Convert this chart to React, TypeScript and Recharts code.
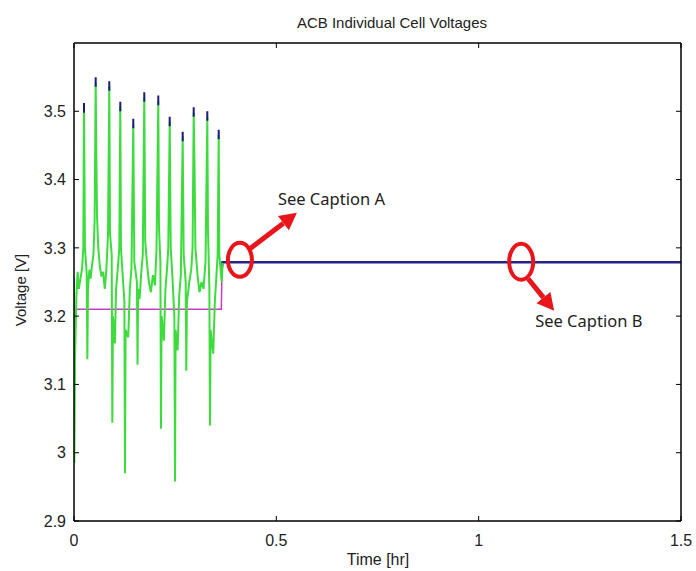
import { LineChart, Line, XAxis, YAxis, ReferenceDot } from "recharts";

// cell voltages (hours / volts)
const greenTime = [
  0.0, 0.0008, 0.0025, 0.006, 0.009, 0.012, 0.016, 0.02, 0.023, 0.0247, 0.026, 0.027, 0.0315, 0.033, 0.0345,
  0.038, 0.041, 0.044, 0.048, 0.051, 0.0536, 0.055, 0.057, 0.06, 0.064, 0.068, 0.072, 0.076, 0.08, 0.084,
  0.0872, 0.089, 0.0932, 0.0947, 0.0962, 0.101, 0.104, 0.108, 0.112, 0.1144, 0.116, 0.12, 0.1245,
  0.126, 0.1275, 0.134, 0.138, 0.142, 0.1465, 0.149, 0.1555, 0.157, 0.1585, 0.162, 0.166, 0.17, 0.1737,
  0.176, 0.18, 0.185, 0.19, 0.195, 0.2, 0.204, 0.2083, 0.21, 0.2135, 0.215, 0.2165, 0.222, 0.226,
  0.23, 0.233, 0.2365, 0.239, 0.243, 0.248, 0.2496, 0.251, 0.256, 0.26, 0.264, 0.2686, 0.271, 0.276,
  0.2775, 0.279, 0.285, 0.29, 0.293, 0.2958, 0.298, 0.3, 0.305, 0.31, 0.315, 0.32, 0.325, 0.3294,
  0.331, 0.3345, 0.336, 0.3375, 0.344, 0.348, 0.352, 0.355, 0.3576, 0.359, 0.362, 0.365, 0.367,
];
const greenVolt = [
  3.255, 2.985, 3.14, 3.23, 3.265, 3.24, 3.255, 3.27, 3.3, 3.505, 3.398, 3.3, 3.262, 3.137, 3.24,
  3.268, 3.255, 3.272, 3.29, 3.34, 3.542, 3.445, 3.344, 3.3, 3.272, 3.258, 3.265, 3.24, 3.268, 3.32,
  3.537, 3.321, 3.29, 3.044, 3.2, 3.16, 3.24, 3.268, 3.3, 3.507, 3.3, 3.262, 3.222,
  2.97, 3.18, 3.169, 3.24, 3.27, 3.482, 3.28, 3.25, 3.129, 3.24, 3.225, 3.262, 3.29, 3.52,
  3.31, 3.28, 3.25, 3.235, 3.26, 3.245, 3.3, 3.515, 3.33, 3.28, 3.035, 3.2, 3.164, 3.24,
  3.27, 3.3, 3.485, 3.3, 3.26, 3.2, 2.958, 3.18, 3.15, 3.23, 3.26, 3.463, 3.29, 3.25,
  3.12, 3.22, 3.25, 3.27, 3.3, 3.498, 3.41, 3.3, 3.262, 3.235, 3.25, 3.24, 3.28, 3.492,
  3.33, 3.24, 3.04, 3.18, 3.145, 3.22, 3.26, 3.29, 3.466, 3.29, 3.27, 3.25, 3.278,
];

// dark blue cell: peak tips poking above the green traces
const peakTime = [0.0247, 0.0536, 0.0872, 0.1144, 0.1465, 0.1737, 0.2083, 0.2365, 0.2686, 0.2958, 0.3294, 0.3576];
const blueTipLow = [3.498, 3.536, 3.53, 3.5, 3.475, 3.514, 3.509, 3.478, 3.456, 3.492, 3.486, 3.459];
const blueTipHigh = [3.512, 3.55, 3.544, 3.514, 3.489, 3.528, 3.523, 3.492, 3.47, 3.506, 3.5, 3.473];

// after the rest period every cell sits on one level
const blueRestTime = [0.364, 0.367, 1.5];
const blueRestVolt = [3.262, 3.279, 3.279];

const magentaTime = [0.0, 0.364, 0.366];
const magentaVolt = [3.21, 3.21, 3.275];

const xTicks = [0, 0.5, 1, 1.5];
const yTicks = [2.9, 3, 3.1, 3.2, 3.3, 3.4, 3.5];

const callouts = [
  { t: 0.41, v: 3.2825, text: "See Caption A", rx: 12, ry: 17, from: [10, -11], to: [57, -47], textAt: [38, -61] },
  { t: 1.105, v: 3.2796, text: "See Caption B", rx: 12, ry: 18, from: [7, 17], to: [33, 49], textAt: [14, 59] },
];

const greenData = greenTime.map((t, i) => ({ t, v: greenVolt[i] }));
const blueTipData = peakTime.flatMap((t, i) => [
  { t, v: blueTipLow[i] },
  { t, v: blueTipHigh[i] },
  { t, v: null },
]);
const blueRestData = blueRestTime.map((t, i) => ({ t, v: blueRestVolt[i] }));
const magentaData = magentaTime.map((t, i) => ({ t, v: magentaVolt[i] }));

const RED = "#e8151b";
const AXIS_FONT = "'Liberation Sans', Arial, sans-serif";
const TICK_LEN = 5;
const X_GAP = 14;
const Y_GAP = 8;

function arrowHead(x1: number, y1: number, x2: number, y2: number, len: number, half: number) {
  const dx = x2 - x1;
  const dy = y2 - y1;
  const d = Math.hypot(dx, dy);
  const ux = dx / d;
  const uy = dy / d;
  const bx = x2 - ux * len;
  const by = y2 - uy * len;
  return {
    base: [bx, by],
    points: `${x2},${y2} ${bx - uy * half},${by + ux * half} ${bx + uy * half},${by - ux * half}`,
  };
}

function Callout(props: any) {
  const { cx, cy, c } = props;
  const x1 = cx + c.from[0];
  const y1 = cy + c.from[1];
  const x2 = cx + c.to[0];
  const y2 = cy + c.to[1];
  const head = arrowHead(x1, y1, x2, y2, 17, 9);
  return (
    <g>
      <ellipse cx={cx} cy={cy} rx={c.rx} ry={c.ry} fill="none" stroke={RED} strokeWidth={4} />
      <line x1={x1} y1={y1} x2={head.base[0]} y2={head.base[1]} stroke={RED} strokeWidth={5} />
      <polygon points={head.points} fill={RED} />
      <text
        x={cx + c.textAt[0]}
        y={cy + c.textAt[1]}
        dominantBaseline="central"
        fontFamily="'Noto Sans', 'Open Sans', sans-serif"
        fontSize={16.5}
        fill="#222"
      >
        {c.text}
      </text>
    </g>
  );
}

// MATLAB style: tick marks point into the plot box
function BottomTick({ x, y, payload }: any) {
  return (
    <g>
      <line x1={x} y1={y - X_GAP} x2={x} y2={y - X_GAP - TICK_LEN} stroke="#000" />
      <text x={x} y={y} dy="0.71em" textAnchor="middle" fontSize={16} fontFamily={AXIS_FONT} fill="#222">
        {String(payload.value)}
      </text>
    </g>
  );
}

function LeftTick({ x, y, payload }: any) {
  return (
    <g>
      <line x1={x + Y_GAP} y1={y} x2={x + Y_GAP + TICK_LEN} y2={y} stroke="#000" />
      <text x={x} y={y} dy="0.355em" textAnchor="end" fontSize={16} fontFamily={AXIS_FONT} fill="#222">
        {String(payload.value)}
      </text>
    </g>
  );
}

function TopTick({ x, y }: any) {
  return <line x1={x} y1={y} x2={x} y2={y + TICK_LEN} stroke="#000" />;
}

function RightTick({ x, y }: any) {
  return <line x1={x} y1={y} x2={x - TICK_LEN} y2={y} stroke="#000" />;
}

const axisLine = { stroke: "#000", strokeWidth: 1.5 };

export default function App() {
  return (
    <div style={{ position: "absolute", left: 0, top: 0, width: 696, height: 571, background: "#fff" }}>
      <LineChart width={696} height={571} margin={{ top: 42, right: 14, bottom: 20, left: 0 }}>
        <XAxis
          xAxisId="bottom"
          dataKey="t"
          type="number"
          domain={[0, 1.5]}
          ticks={xTicks}
          allowDataOverflow
          height={30}
          tickSize={0}
          tickMargin={X_GAP}
          tick={<BottomTick />}
          tickLine={false}
          axisLine={axisLine}
        />
        <XAxis
          xAxisId="top"
          orientation="top"
          dataKey="t"
          type="number"
          domain={[0, 1.5]}
          ticks={xTicks}
          allowDataOverflow
          height={1}
          tickSize={0}
          tickMargin={0}
          tick={<TopTick />}
          tickLine={false}
          axisLine={axisLine}
        />
        <YAxis
          yAxisId="left"
          type="number"
          domain={[2.9, 3.6]}
          ticks={yTicks}
          allowDataOverflow
          width={74}
          tickSize={0}
          tickMargin={Y_GAP}
          tick={<LeftTick />}
          tickLine={false}
          axisLine={axisLine}
        />
        <YAxis
          yAxisId="right"
          orientation="right"
          type="number"
          domain={[2.9, 3.6]}
          ticks={yTicks}
          allowDataOverflow
          width={1}
          tickSize={0}
          tickMargin={0}
          tick={<RightTick />}
          tickLine={false}
          axisLine={axisLine}
        />
        <Line
          xAxisId="bottom"
          yAxisId="left"
          data={blueRestData}
          dataKey="v"
          stroke="#25238a"
          strokeWidth={2.5}
          dot={false}
          isAnimationActive={false}
        />
        <Line
          xAxisId="bottom"
          yAxisId="left"
          data={magentaData}
          dataKey="v"
          stroke="#c83cc8"
          strokeWidth={1.5}
          dot={false}
          isAnimationActive={false}
        />
        <Line
          xAxisId="bottom"
          yAxisId="left"
          data={greenData}
          dataKey="v"
          stroke="#3cdc3c"
          strokeWidth={2}
          dot={false}
          isAnimationActive={false}
        />
        <Line
          xAxisId="bottom"
          yAxisId="left"
          data={blueTipData}
          dataKey="v"
          stroke="#1c1c7c"
          strokeWidth={2}
          dot={false}
          isAnimationActive={false}
        />
        {callouts.map((c) => (
          <ReferenceDot
            key={c.text}
            xAxisId="bottom"
            yAxisId="left"
            x={c.t}
            y={c.v}
            r={1}
            shape={(p: any) => <Callout {...p} c={c} />}
          />
        ))}
      </LineChart>
      <div
        style={{
          position: "absolute",
          left: 392,
          top: 22,
          transform: "translate(-50%, -50%)",
          fontFamily: AXIS_FONT,
          fontSize: 15,
          color: "#222",
          whiteSpace: "nowrap",
        }}
      >
        ACB Individual Cell Voltages
      </div>
      <div
        style={{
          position: "absolute",
          left: 20,
          top: 290,
          transform: "translate(-50%, -50%) rotate(-90deg)",
          fontFamily: AXIS_FONT,
          fontSize: 15,
          color: "#222",
          whiteSpace: "nowrap",
        }}
      >
        Voltage [V]
      </div>
      <div
        style={{
          position: "absolute",
          left: 378,
          top: 560,
          transform: "translate(-50%, -50%)",
          fontFamily: AXIS_FONT,
          fontSize: 16,
          color: "#222",
          whiteSpace: "nowrap",
        }}
      >
        Time [hr]
      </div>
    </div>
  );
}
